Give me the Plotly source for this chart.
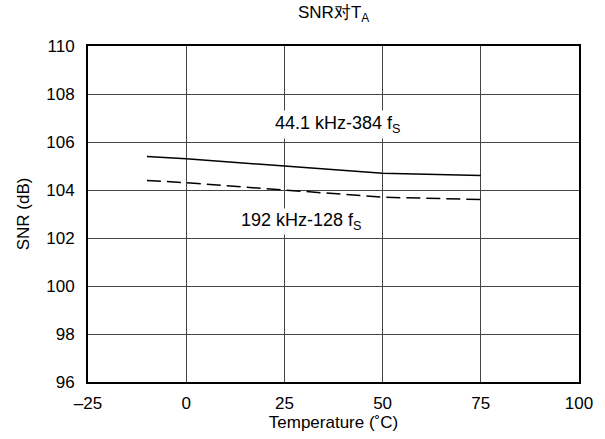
import plotly.graph_objects as go

temps = [-10, 0, 25, 50, 75]
snr_441 = [105.4, 105.3, 105.0, 104.7, 104.6]
snr_192 = [104.4, 104.3, 104.0, 103.7, 103.6]
x_ticks = [-25, 0, 25, 50, 75, 100]
x_tick_text = ["–25", "0", "25", "50", "75", "100"]
y_ticks = [96, 98, 100, 102, 104, 106, 108, 110]

font = "Liberation Sans, Arial, sans-serif"

fig = go.Figure()
fig.add_trace(go.Scatter(x=temps, y=snr_441, mode="lines",
                         line=dict(color="black", width=1.5), showlegend=False))
fig.add_trace(go.Scatter(x=temps, y=snr_192, mode="lines",
                         line=dict(color="black", width=1.5, dash="14px,6px"), showlegend=False))

fig.add_annotation(x=38.6, y=106.74, text="44.1 kHz-384 f<sub>S</sub>", showarrow=False,
                   bgcolor="white", borderpad=2,
                   font=dict(family=font, size=18, color="black"))
fig.add_annotation(x=29.2, y=102.68, text="192 kHz-128 f<sub>S</sub>", showarrow=False,
                   bgcolor="white", borderpad=1,
                   font=dict(family=font, size=18, color="black"))
fig.add_annotation(x=0.5, xref="paper", y=1.0, yref="paper", yanchor="middle", yshift=32,
                   text="SNR对T<sub>A</sub>",
                   showarrow=False, font=dict(family=font, size=17, color="black"))

fig.update_layout(
    width=605, height=439,
    margin=dict(l=88, r=21, t=46, b=54),
    paper_bgcolor="white", plot_bgcolor="white",
    font=dict(family=font, size=17, color="black"),
)
fig.update_xaxes(range=[-25, 100], tickvals=x_ticks, ticktext=x_tick_text,
                 showgrid=True, gridcolor="#444444", gridwidth=1,
                 showline=True, linecolor="black", linewidth=2, mirror=True,
                 ticks="", zeroline=False, ticklabelstandoff=5,
                 title=dict(text="Temperature (˚C)", standoff=2, font=dict(size=17)))
fig.update_yaxes(range=[96, 110], tickvals=y_ticks,
                 showgrid=True, gridcolor="#444444", gridwidth=1,
                 showline=True, linecolor="black", linewidth=2, mirror=True,
                 ticks="", zeroline=False, ticklabelstandoff=8,
                 title=dict(text="SNR (dB)", standoff=12, font=dict(size=17)))

fig.write_html("out.html")
